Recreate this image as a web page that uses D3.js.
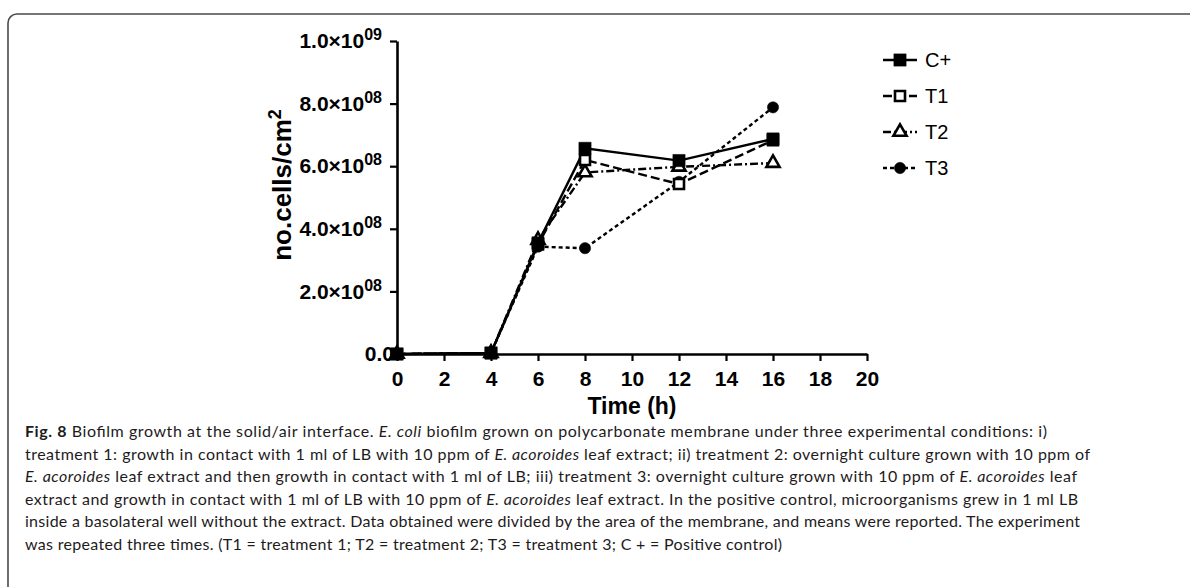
<!DOCTYPE html>
<html>
<head>
<meta charset="utf-8">
<script src="https://cdn.jsdelivr.net/npm/d3@7"></script>
<style>
  body { margin: 0; background: #fff; }
  svg { display: block; }
</style>
</head>
<body>
<svg id="chart" width="1190" height="587"></svg>
<script>
// Sampling times (h)
const times = [0, 4, 6, 8, 12, 16];

// Mean cell counts per cm² for each condition
const cPlus = [0, 3e6, 3.55e8, 6.57e8, 6.18e8, 6.87e8];
const t1    = [0, 3e6, 3.50e8, 6.20e8, 5.43e8, 6.83e8];
const t2    = [0, 3e6, 3.64e8, 5.80e8, 5.98e8, 6.10e8];
const t3    = [0, 3e6, 3.43e8, 3.38e8, 5.50e8, 7.88e8];

const seriesNames = ["C+", "T1", "T2", "T3"];

// Axis ticks
const xTicks = [0, 2, 4, 6, 8, 10, 12, 14, 16, 18, 20];
const yTicks = [0, 2e8, 4e8, 6e8, 8e8, 1e9];

// Caption lines: each a list of [text, style] runs
const captionLines = [
  [["Fig. 8", "b"], [" Biofilm growth at the solid/air interface. ", ""], ["E. coli", "i"], [" biofilm grown on polycarbonate membrane under three experimental conditions: i)", ""]],
  [["treatment 1: growth in contact with 1 ml of LB with 10 ppm of ", ""], ["E. acoroides", "i"], [" leaf extract; ii) treatment 2: overnight culture grown with 10 ppm of", ""]],
  [["E. acoroides", "i"], [" leaf extract and then growth in contact with 1 ml of LB; iii) treatment 3: overnight culture grown with 10 ppm of ", ""], ["E. acoroides", "i"], [" leaf", ""]],
  [["extract and growth in contact with 1 ml of LB with 10 ppm of ", ""], ["E. acoroides", "i"], [" leaf extract. In the positive control, microorganisms grew in 1 ml LB", ""]],
  [["inside a basolateral well without the extract. Data obtained were divided by the area of the membrane, and means were reported. The experiment", ""]],
  [["was repeated three times. (T1 = treatment 1; T2 = treatment 2; T3 = treatment 3; C + = Positive control)", ""]]
];
const captionWidths = [1022, 1065, 1052, 1053, 1055, 757];

const svg = d3.select("#chart");

// Frame around the figure
svg.append("rect")
  .attr("x", 8).attr("y", 14)
  .attr("width", 1200).attr("height", 620)
  .attr("rx", 9).attr("ry", 9)
  .attr("fill", "none")
  .attr("stroke", "#4a4a4a")
  .attr("stroke-width", 1.6);

const x = d3.scaleLinear().domain([0, 20]).range([397, 867]);
const y = d3.scaleLinear().domain([0, 1e9]).range([354, 41]);

const axisFont = "Arial, 'Liberation Sans', sans-serif";

// X axis
const gx = svg.append("g")
  .attr("transform", `translate(0,${y(0)})`)
  .call(d3.axisBottom(x).tickValues(xTicks).tickSize(7).tickSizeOuter(0).tickPadding(10));
gx.select(".domain").attr("stroke", "#000").attr("stroke-width", 2.6);
gx.selectAll(".tick line").attr("stroke", "#000").attr("stroke-width", 2.2);
gx.selectAll(".tick text")
  .attr("font-family", axisFont).attr("font-weight", "bold")
  .attr("font-size", 21).attr("fill", "#000");

// Y axis with scientific tick labels
const gy = svg.append("g")
  .attr("transform", `translate(${x(0)},0)`)
  .call(d3.axisLeft(y).tickValues(yTicks).tickSize(7).tickSizeOuter(0).tickPadding(8).tickFormat(() => ""));
gy.select(".domain").attr("stroke", "#000").attr("stroke-width", 2.6);
gy.selectAll(".tick line").attr("stroke", "#000").attr("stroke-width", 2.2);
gy.selectAll(".tick text")
  .attr("font-family", axisFont).attr("font-weight", "bold")
  .attr("font-size", 21).attr("fill", "#000")
  .each(function(d) {
    const t = d3.select(this);
    if (d === 0) {
      t.text("0.0").attr("x", -3);
      return;
    }
    const exp = Math.floor(Math.log10(d));
    const mant = d / Math.pow(10, exp);
    t.append("tspan").text(mant.toFixed(1) + "\u00d710");
    t.append("tspan").attr("font-size", 16).attr("dy", -8)
      .text(String(exp).padStart(2, "0"));
  });

// Axis titles
svg.append("text")
  .attr("x", 632).attr("y", 414)
  .attr("text-anchor", "middle")
  .attr("font-family", axisFont).attr("font-weight", "bold")
  .attr("font-size", 23).text("Time (h)");

const yTitle = svg.append("text")
  .attr("transform", "translate(291,185) rotate(-90)")
  .attr("text-anchor", "middle")
  .attr("font-family", axisFont).attr("font-weight", "bold")
  .attr("font-size", 26);
yTitle.append("tspan").text("no.cells/cm");
yTitle.append("tspan").attr("font-size", 18).attr("dy", -10).text("2");

// Series definitions
const series = [
  { name: "C+", values: cPlus, dash: null,        symbol: d3.symbolSquare,   size: 150, open: false },
  { name: "T1", values: t1,    dash: "9,4",       symbol: d3.symbolSquare,   size: 100, open: true },
  { name: "T2", values: t2,    dash: "8,3,2,3",   symbol: d3.symbolTriangle, size: 75,  open: true },
  { name: "T3", values: t3,    dash: "4,3",       symbol: d3.symbolCircle,   size: 100, open: false }
];

const line = d3.line().x(d => x(d[0])).y(d => y(d[1]));

// Draw back-to-front so the control sits on top
const drawOrder = series.slice().reverse();
drawOrder.forEach(s => {
  const pts = times.map((t, i) => [t, s.values[i]]);
  svg.append("path")
    .datum(pts)
    .attr("d", line)
    .attr("fill", "none")
    .attr("stroke", "#000")
    .attr("stroke-width", 2.4)
    .attr("stroke-dasharray", s.dash);
});
drawOrder.forEach(s => {
  const pts = times.map((t, i) => [t, s.values[i]]);
  svg.append("g").selectAll("path")
    .data(pts)
    .join("path")
    .attr("transform", d => `translate(${x(d[0])},${y(d[1])})`)
    .attr("d", d3.symbol().type(s.symbol).size(s.size))
    .attr("fill", s.open ? "#fff" : "#000")
    .attr("stroke", "#000")
    .attr("stroke-width", s.open ? 2.6 : 0.5);
});

// Legend
const legend = svg.append("g");
series.forEach((s, i) => {
  const ly = 60 + i * 36;
  const g = legend.append("g").attr("transform", `translate(0,${ly})`);
  g.append("line")
    .attr("x1", 883).attr("x2", 917)
    .attr("stroke", "#000").attr("stroke-width", 2.4)
    .attr("stroke-dasharray", s.dash);
  g.append("path")
    .attr("transform", "translate(900,0)")
    .attr("d", d3.symbol().type(s.symbol).size(s.size))
    .attr("fill", s.open ? "#fff" : "#000")
    .attr("stroke", "#000")
    .attr("stroke-width", s.open ? 2.6 : 0.5);
  g.append("text")
    .attr("x", 925).attr("y", 7)
    .attr("font-family", axisFont).attr("font-size", 20)
    .text(s.name);
});

// Caption
const cap = svg.append("g");
captionLines.forEach((runs, i) => {
  const t = cap.append("text")
    .attr("x", 25).attr("y", 437 + i * 22.5)
    .attr("font-family", "Lato, 'Open Sans', sans-serif")
    .attr("font-size", 16)
    .attr("fill", "#1e1b1c")
    .attr("textLength", captionWidths[i])
    .attr("lengthAdjust", "spacing");
  runs.forEach(([txt, style]) => {
    const sp = t.append("tspan").text(txt);
    if (style === "b") sp.attr("font-weight", "bold");
    if (style === "i") sp.attr("font-style", "italic");
  });
});
</script>
</body>
</html>
